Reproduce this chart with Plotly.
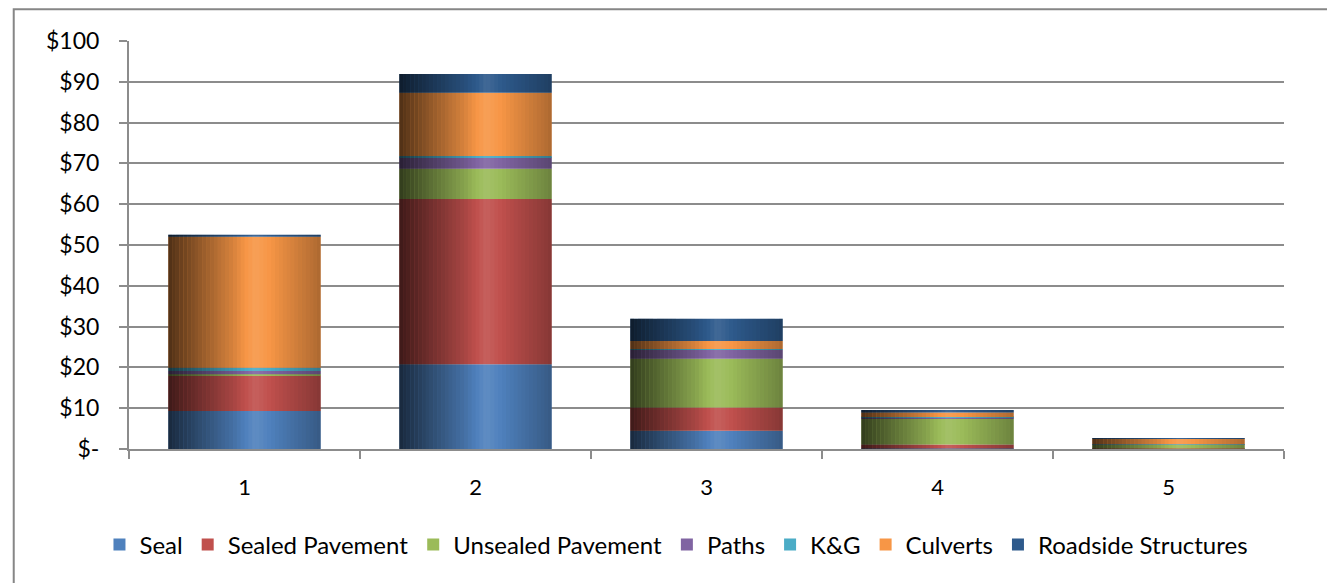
import plotly.graph_objects as go
import numpy as np

categories = ["1", "2", "3", "4", "5"]
seal = [9.3, 20.8, 4.5, 0.1, 0.05]
sealed_pavement = [8.7, 40.5, 5.7, 1.0, 0.1]
unsealed_pavement = [0.3, 7.4, 11.9, 6.4, 0.9]
paths = [0.8, 2.8, 2.2, 0.1, 0.05]
kg = [0.8, 0.3, 0.2, 0.25, 0.05]
culverts = [32.1, 15.5, 2.0, 1.1, 1.4]
roadside = [0.5, 4.6, 5.4, 0.6, 0.1]

series_names = ["Seal", "Sealed Pavement", "Unsealed Pavement", "Paths", "K&G", "Culverts", "Roadside Structures"]
series_values = [seal, sealed_pavement, unsealed_pavement, paths, kg, culverts, roadside]
series_colors = ["#4F81BD", "#C0504D", "#9BBB59", "#8064A2", "#4BACC6", "#F79646", "#2E5A8C"]

y_tick_vals = [0, 10, 20, 30, 40, 50, 60, 70, 80, 90, 100]
y_tick_text = ["$-", "$10", "$20", "$30", "$40", "$50", "$60", "$70", "$80", "$90", "$100"]

BAR_W = 0.66

fig = go.Figure()
base = np.zeros(len(categories))
for name, vals, col in zip(series_names, series_values, series_colors):
    fig.add_trace(go.Bar(x=categories, y=vals, base=base.copy(), name=name, width=BAR_W,
                         marker=dict(color=col, line=dict(width=0))))
    base = base + np.array(vals)
totals = base

# cylinder-like shading overlay (style only)
N = 40
pts_t = [0.0, 0.2, 0.42, 0.57, 0.75, 1.0]
pts_a = [0.68, 0.42, 0.14, -0.10, 0.08, 0.30]
sw = BAR_W / N
for i in range(N):
    t = (i + 0.5) / N
    a = float(np.interp(t, pts_t, pts_a))
    col = f"rgba(0,0,0,{a:.3f})" if a >= 0 else f"rgba(255,255,255,{-a:.3f})"
    fig.add_trace(go.Bar(x=categories, y=list(totals), width=sw, offset=-BAR_W / 2 + i * sw,
                         marker=dict(color=col, line=dict(width=0)),
                         showlegend=False, hoverinfo="skip"))

font = "Lato, 'Open Sans', sans-serif"
fig.update_layout(
    barmode="overlay",
    width=1335, height=583,
    margin=dict(l=121, r=59, t=33, b=142),
    paper_bgcolor="white", plot_bgcolor="white",
    font=dict(family=font, size=22, color="#000000"),
    showlegend=True,
    legend=dict(orientation="h", x=0.474, xanchor="center", y=-0.235, yanchor="middle",
                traceorder="normal", font=dict(size=24), itemwidth=30),
    shapes=[dict(type="rect", xref="paper", yref="paper",
                 x0=-0.0998, x1=1.0394, y0=1.078, y1=-0.34,
                 line=dict(color="#868686", width=2), fillcolor="rgba(0,0,0,0)", layer="below")],
)
fig.update_yaxes(range=[0, 100], tickvals=y_tick_vals, ticktext=y_tick_text,
                 showgrid=True, gridcolor="#8C8C8C", gridwidth=2,
                 showline=True, linecolor="#8C8C8C", linewidth=2,
                 ticks="outside", ticklen=8, tickcolor="#8C8C8C", tickwidth=2,
                 ticklabelstandoff=15, zeroline=False, tickfont=dict(size=23))
fig.update_xaxes(showline=True, linecolor="#8C8C8C", linewidth=2,
                 ticks="outside", ticklen=8, tickcolor="#8C8C8C", tickwidth=2,
                 tickson="boundaries", ticklabelstandoff=18, showgrid=False,
                 tickfont=dict(size=22))

fig.write_html("out.html")
